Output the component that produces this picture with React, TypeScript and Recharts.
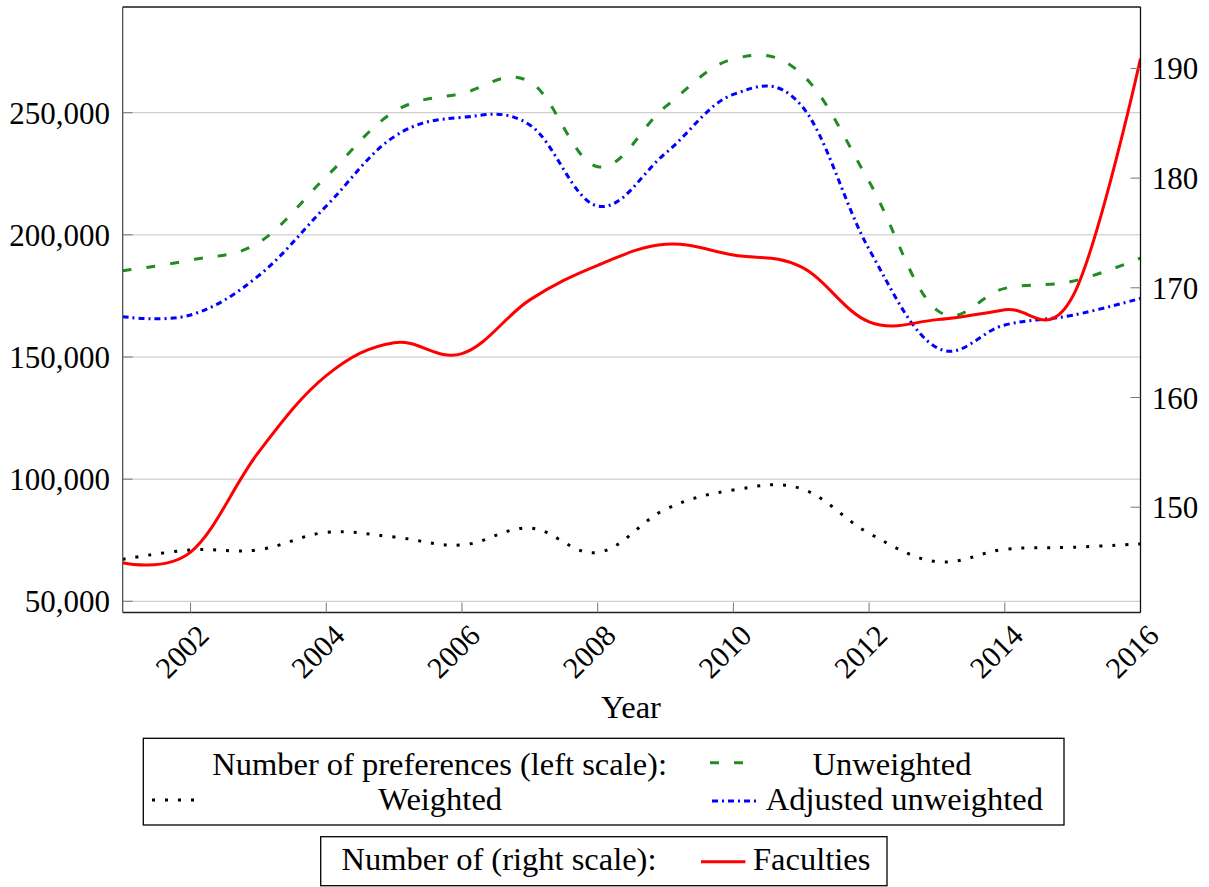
import { LineChart, Line, XAxis, YAxis, CartesianGrid } from "recharts";

// values (left scale: preferences, right scale: faculties)
const years = [2001, 2002, 2003, 2004, 2005, 2006, 2007, 2008, 2009, 2010, 2011, 2012, 2013, 2014, 2015, 2016];
const unweighted = [185300, 189700, 196800, 223800, 250400, 257900, 262700, 227900, 252500, 272000, 266000, 221800, 169200, 178100, 181000, 190500];
const adjustedUnweighted = [166500, 167200, 183200, 211800, 240200, 248100, 245000, 211800, 233400, 257500, 253000, 194100, 153800, 163100, 167100, 174000];
const weighted = [67200, 71000, 71100, 78200, 76330, 73050, 80000, 69950, 87680, 95560, 96100, 77840, 66230, 71300, 72100, 73470];
const faculties = [144.93, 145.9, 155.0, 162.0, 165.0, 164.0, 168.9, 172.05, 173.97, 173.0, 171.9, 166.9, 167.1, 168.0, 169.2, 190.9];

const yearTicks = [2002, 2004, 2006, 2008, 2010, 2012, 2014, 2016];
const leftTicks = [50000, 100000, 150000, 200000, 250000];
const rightTicks = [150, 160, 170, 180, 190];

const data = years.map((year, i) => ({
  year,
  unweighted: unweighted[i],
  adjusted: adjustedUnweighted[i],
  weighted: weighted[i],
  faculties: faculties[i],
}));

const W = 1209;
const H = 887;
const PLOT_LEFT = 122.7;
const PLOT_RIGHT = 1140.5;
const PLOT_TOP = 7;
const PLOT_BOTTOM = 612.5;
const AXIS_W = 60;
const AXIS_H = 30;
const FONT = "'Liberation Serif', 'Times New Roman', serif";

// pgfplots "smooth" (tension 0.55) as a d3 curve factory
const TENSION = 0.55 * 0.3333;
function pgfSmooth(context: any) {
  let pts: number[][] = [];
  return {
    areaStart() {},
    areaEnd() {},
    lineStart() {
      pts = [];
    },
    point(x: number, y: number) {
      pts.push([+x, +y]);
    },
    lineEnd() {
      const n = pts.length;
      if (!n) return;
      context.moveTo(pts[0][0], pts[0][1]);
      for (let i = 0; i < n - 1; i++) {
        const a = pts[i];
        const b = pts[i + 1];
        const prev = i > 0 ? pts[i - 1] : null;
        const next = i + 2 < n ? pts[i + 2] : null;
        const c1 = prev ? [a[0] + TENSION * (b[0] - prev[0]), a[1] + TENSION * (b[1] - prev[1])] : a;
        const c2 = next ? [b[0] - TENSION * (next[0] - a[0]), b[1] - TENSION * (next[1] - a[1])] : b;
        context.bezierCurveTo(c1[0], c1[1], c2[0], c2[1], b[0], b[1]);
      }
    },
  };
}

const YearTick = (props: any) => {
  const { x, payload } = props;
  const ax = x + 20;
  const ay = PLOT_BOTTOM + 25;
  return (
    <text
      x={ax}
      y={ay}
      transform={`rotate(-45 ${ax} ${ay})`}
      textAnchor="end"
      fontFamily={FONT}
      fontSize={30}
      fill="#000"
    >
      {payload.value}
    </text>
  );
};

const GREEN = "#228b22";

function Legends() {
  const txt = { fontFamily: FONT, fontSize: 32.5, fill: "#000" } as const;
  return (
    <svg width={W} height={H} style={{ position: "absolute", left: 0, top: 0, pointerEvents: "none" }}>
      <text x={631} y={718} textAnchor="middle" {...txt}>Year</text>

      <rect x={143.3} y={738.3} width={920.7} height={86.7} fill="none" stroke="#000" strokeWidth={1.3} />
      <text x={439.6} y={775} textAnchor="middle" {...txt}>Number of preferences (left scale):</text>
      <line x1={710} y1={762.7} x2={746} y2={762.7} stroke={GREEN} strokeWidth={3} strokeDasharray="9 15" />
      <text x={892} y={775} textAnchor="middle" {...txt}>Unweighted</text>
      <line x1={152} y1={800} x2={202} y2={800} stroke="#000" strokeWidth={3} strokeDasharray="3 10" />
      <text x={440.2} y={810} textAnchor="middle" {...txt}>Weighted</text>
      <line x1={712} y1={801} x2={758} y2={801} stroke="#0000ff" strokeWidth={3} strokeDasharray="6 4 2 4" />
      <text x={765.8} y={810} {...txt}>Adjusted unweighted</text>

      <rect x={320.7} y={836.7} width={566.3} height={49} fill="none" stroke="#000" strokeWidth={1.3} />
      <text x={499} y={870} textAnchor="middle" {...txt}>Number of (right scale):</text>
      <line x1={701} y1={861.7} x2={745.4} y2={861.7} stroke="#ff0000" strokeWidth={3} />
      <text x={753} y={870} {...txt}>Faculties</text>
    </svg>
  );
}

export default function App() {
  return (
    <div style={{ position: "absolute", left: 0, top: 0, width: W, height: H, background: "#fff" }}>
      <LineChart
        width={W}
        height={H}
        data={data}
        margin={{
          top: PLOT_TOP - 1,
          right: W - PLOT_RIGHT - AXIS_W,
          bottom: H - PLOT_BOTTOM - AXIS_H,
          left: PLOT_LEFT - AXIS_W,
        }}
      >
        <CartesianGrid yAxisId="left" vertical={false} stroke="#c4c4c4" strokeWidth={1} />
        <XAxis
          dataKey="year"
          type="number"
          domain={[2001, 2016]}
          ticks={yearTicks}
          height={AXIS_H}
          tick={<YearTick />}
          tickSize={-10}
          tickLine={{ stroke: "#777" }}
          axisLine={{ stroke: "#222", strokeWidth: 1.3 }}
          interval={0}
          allowDataOverflow
        />
        <XAxis
          xAxisId="top"
          orientation="top"
          dataKey="year"
          type="number"
          domain={[2001, 2016]}
          ticks={yearTicks}
          height={1}
          tick={false}
          tickSize={-10}
          tickLine={{ stroke: "#777" }}
          axisLine={{ stroke: "#222", strokeWidth: 1.3 }}
          allowDataOverflow
        />
        <YAxis
          yAxisId="left"
          type="number"
          domain={[45415, 293270]}
          ticks={leftTicks}
          width={AXIS_W}
          tickSize={-10}
          tickMargin={22.7}
          tickLine={{ stroke: "#777" }}
          axisLine={{ stroke: "#444", strokeWidth: 1.2 }}
          tickFormatter={(v: number) => v.toLocaleString("en-US")}
          tick={{ fill: "#000", fontSize: 31, fontFamily: FONT }}
          interval={0}
          allowDataOverflow
        />
        <YAxis
          yAxisId="right"
          orientation="right"
          type="number"
          domain={[140.4, 195.6]}
          ticks={rightTicks}
          width={AXIS_W}
          tickSize={-10}
          tickMargin={21.2}
          tickLine={{ stroke: "#777" }}
          axisLine={{ stroke: "#111", strokeWidth: 1.3 }}
          tick={{ fill: "#000", fontSize: 31, fontFamily: FONT }}
          interval={0}
          allowDataOverflow
        />
        <Line
          yAxisId="left"
          dataKey="weighted"
          type={pgfSmooth as any}
          stroke="#000"
          strokeWidth={3}
          strokeDasharray="3 10"
          dot={false}
          activeDot={false}
          isAnimationActive={false}
        />
        <Line
          yAxisId="left"
          dataKey="unweighted"
          type={pgfSmooth as any}
          stroke={GREEN}
          strokeWidth={3}
          strokeDasharray="9 15"
          dot={false}
          activeDot={false}
          isAnimationActive={false}
        />
        <Line
          yAxisId="left"
          dataKey="adjusted"
          type={pgfSmooth as any}
          stroke="#0000ff"
          strokeWidth={3}
          strokeDasharray="6 4 2 4"
          dot={false}
          activeDot={false}
          isAnimationActive={false}
        />
        <Line
          yAxisId="right"
          dataKey="faculties"
          type={pgfSmooth as any}
          stroke="#ff0000"
          strokeWidth={3}
          dot={false}
          activeDot={false}
          isAnimationActive={false}
        />
      </LineChart>
      <Legends />
    </div>
  );
}
